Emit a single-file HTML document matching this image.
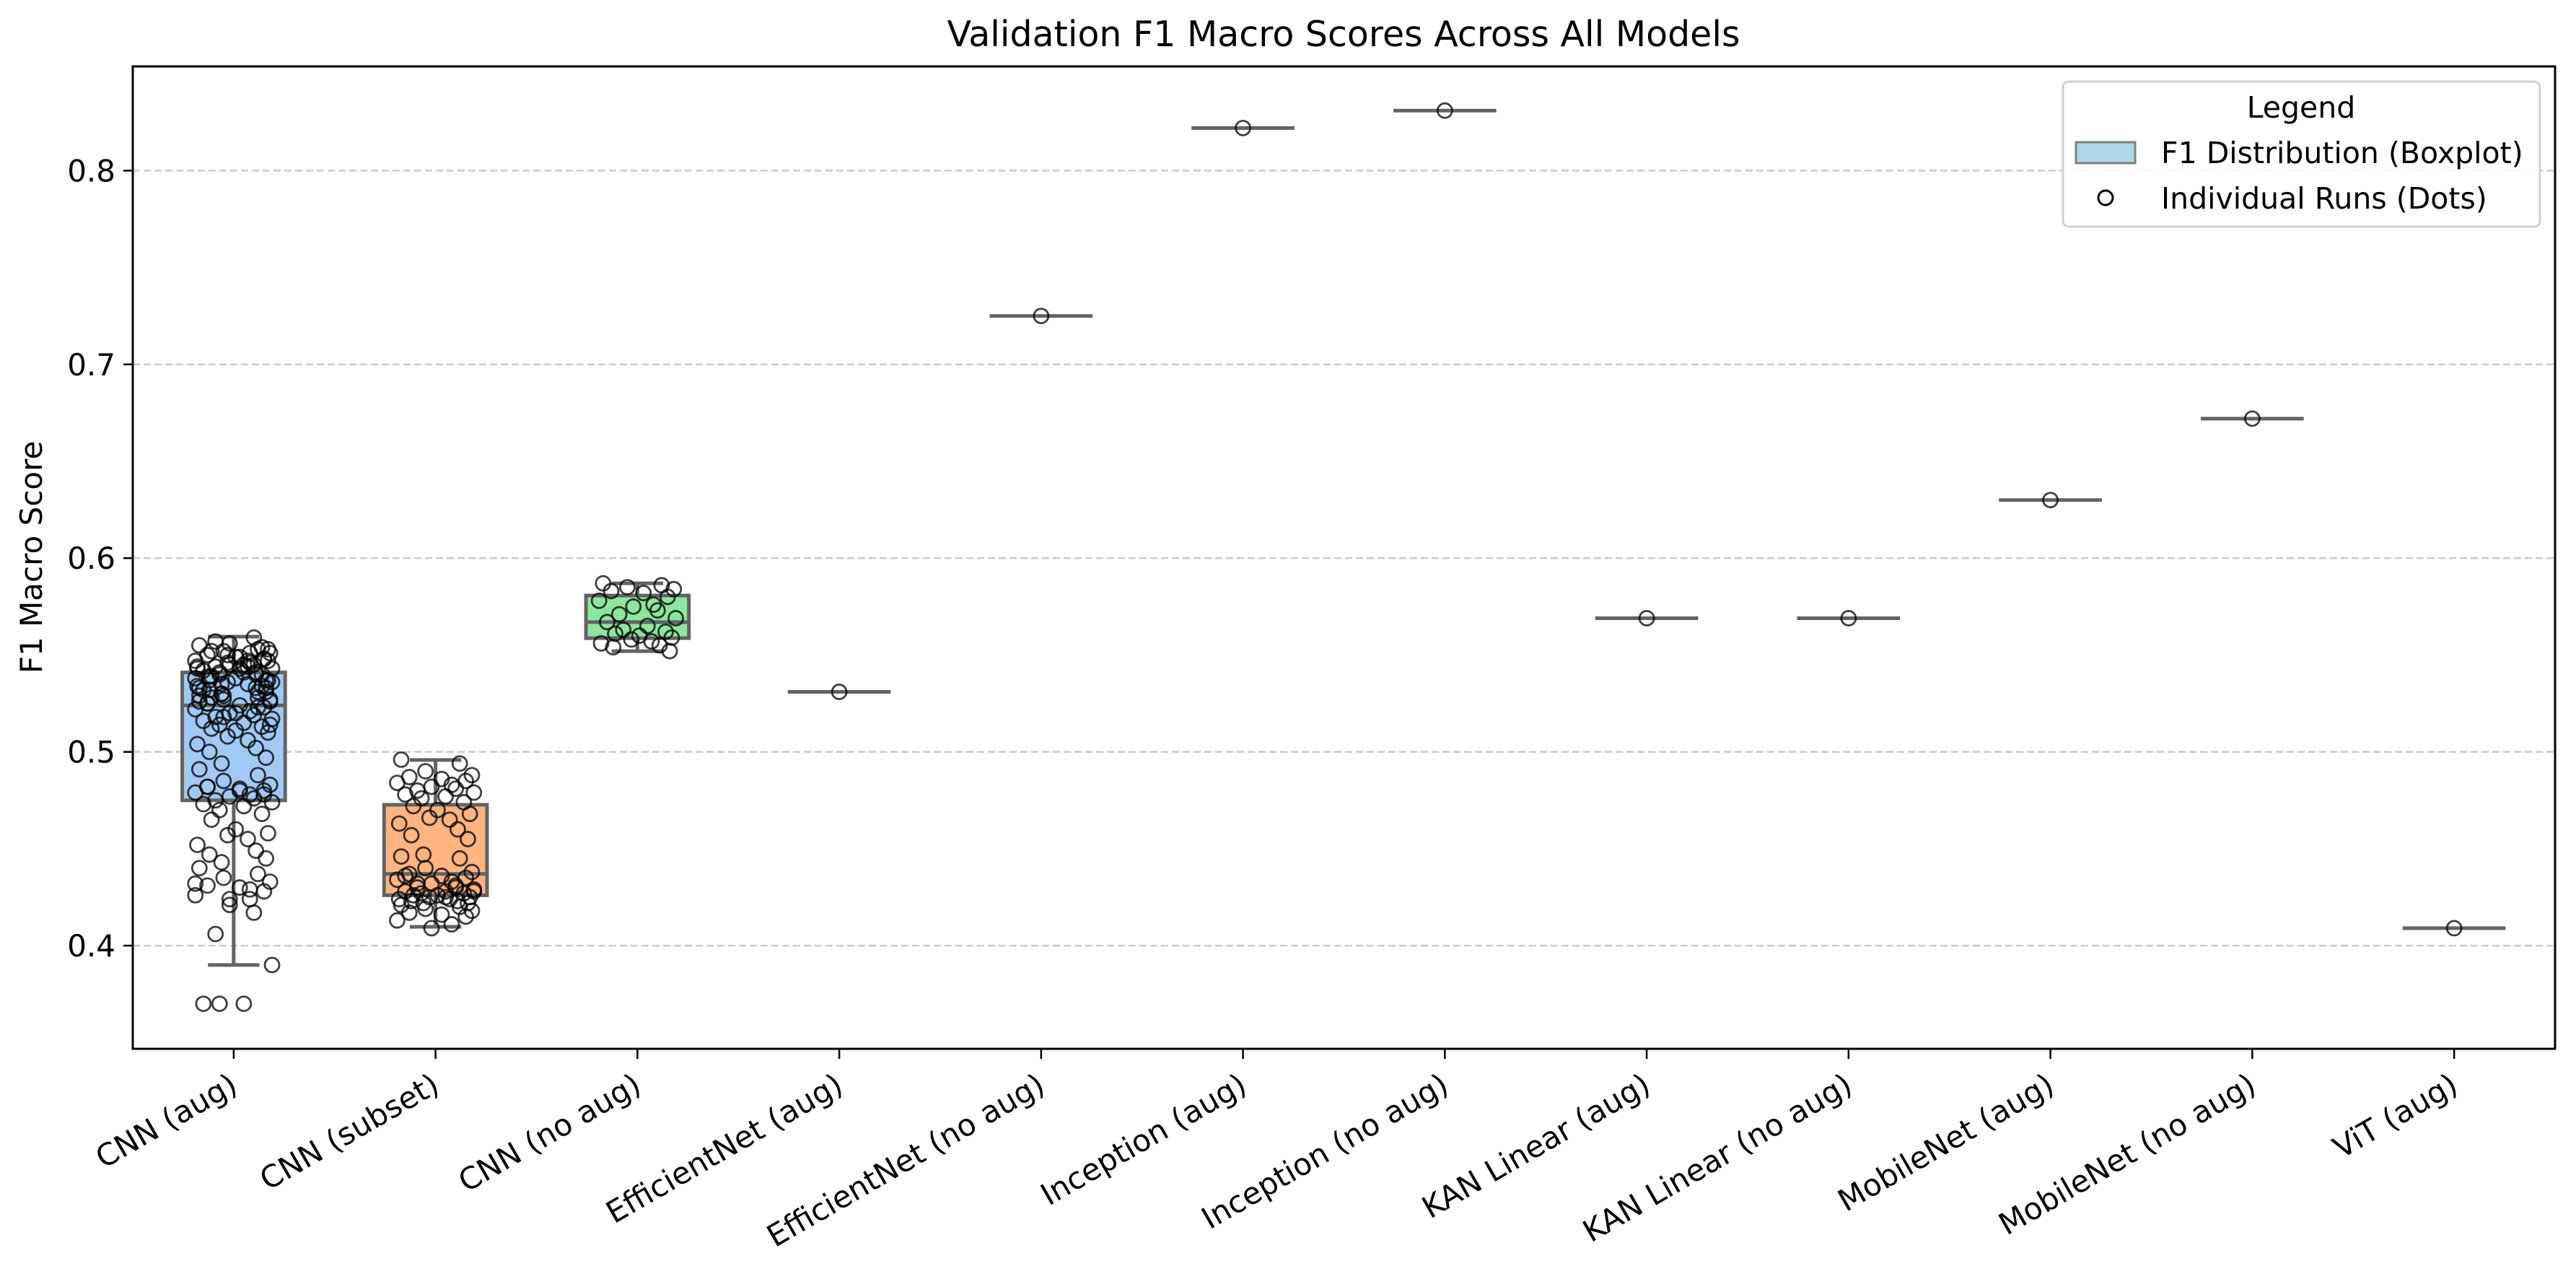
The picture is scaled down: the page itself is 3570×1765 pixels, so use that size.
<!DOCTYPE html>
<html><head><meta charset="utf-8">
<style>
html,body{margin:0;padding:0;background:#fff;}
svg{display:block;font-family:"DejaVu Sans","Liberation Sans",sans-serif;}
</style></head>
<body>
<svg id="chart" width="3570" height="1765" viewBox="0 0 3570 1765" xmlns="http://www.w3.org/2000/svg">
<rect x="0" y="0" width="3570" height="1765" fill="#fff"/>
<text x="1862" y="64" font-size="49" text-anchor="middle">Validation F1 Macro Scores Across All Models</text>
<text transform="translate(58,772) rotate(-90)" font-size="42" text-anchor="middle">F1 Macro Score</text>
<g id="grid"></g><g id="boxes"></g><g id="dots"></g><g id="axes"></g>
<g>
<rect x="2859" y="113" width="661" height="201" rx="8" fill="#fff" fill-opacity="0.85" stroke="#d0d0d0" stroke-width="3"/>
<text x="3189" y="163" font-size="41" text-anchor="middle">Legend</text>
<rect x="2877" y="197" width="82" height="29" fill="#add8e6" stroke="#808080" stroke-width="3"/>
<text x="2995" y="226" font-size="41">F1 Distribution (Boxplot)</text>
<circle cx="2918" cy="274" r="10" fill="none" stroke="#000" stroke-width="3"/>
<text x="2995" y="289" font-size="41">Individual Runs (Dots)</text>
</g>
</svg>
<script>
const categories=["CNN (aug)","CNN (subset)","CNN (no aug)","EfficientNet (aug)","EfficientNet (no aug)","Inception (aug)","Inception (no aug)","KAN Linear (aug)","KAN Linear (no aug)","MobileNet (aug)","MobileNet (no aug)","ViT (aug)"];
const boxQ1=[0.475,0.426,0.5587,0.531,0.725,0.822,0.831,0.569,0.569,0.630,0.672,0.409];
const boxMedian=[0.524,0.437,0.567,0.531,0.725,0.822,0.831,0.569,0.569,0.630,0.672,0.409];
const boxQ3=[0.541,0.4727,0.5807,0.531,0.725,0.822,0.831,0.569,0.569,0.630,0.672,0.409];
const whiskerLow=[0.390,0.4097,0.552,0.531,0.725,0.822,0.831,0.569,0.569,0.630,0.672,0.409];
const whiskerHigh=[0.5595,0.4958,0.587,0.531,0.725,0.822,0.831,0.569,0.569,0.630,0.672,0.409];
const boxFill=["#a1c9f4","#ffb482","#8de5a1",null,null,null,null,null,null,null,null,null];
const runsCnnAug=[0.555,0.553,0.552,0.551,0.550,0.549,0.548,0.547,0.546,0.545,0.545,0.544,0.543,0.542,0.541,0.540,0.540,0.539,0.538,0.537,0.536,0.535,0.534,0.533,0.532,0.531,0.530,0.529,0.528,0.527,0.526,0.525,0.524,0.523,0.522,0.521,0.520,0.519,0.518,0.517,0.516,0.515,0.514,0.513,0.512,0.511,0.510,0.508,0.506,0.504,0.502,0.500,0.497,0.494,0.491,0.488,0.485,0.483,0.482,0.481,0.480,0.479,0.478,0.477,0.476,0.475,0.474,0.473,0.472,0.470,0.468,0.465,0.460,0.458,0.457,0.455,0.452,0.449,0.447,0.445,0.443,0.440,0.437,0.435,0.433,0.431,0.430,0.428,0.426,0.424,0.421,0.417,0.406,0.390,0.370,0.370,0.370,0.554,0.552,0.549,0.547,0.546,0.544,0.543,0.541,0.539,0.537,0.535,0.533,0.531,0.529,0.527,0.525,0.543,0.548,0.538,0.551,0.556,0.559,0.557,0.536,0.532,0.545,0.541,0.534,0.528,0.520,0.553,0.550,0.547,0.544,0.540,0.537,0.533,0.530,0.526,0.523,0.518,0.514,0.482,0.480,0.478,0.432,0.429,0.424];
const runsCnnSubset=[0.496,0.494,0.490,0.488,0.487,0.486,0.485,0.484,0.483,0.482,0.481,0.480,0.479,0.478,0.477,0.476,0.474,0.472,0.470,0.468,0.466,0.465,0.463,0.460,0.457,0.455,0.447,0.446,0.445,0.440,0.438,0.437,0.436,0.435,0.434,0.433,0.432,0.431,0.430,0.429,0.428,0.428,0.427,0.427,0.426,0.426,0.425,0.425,0.424,0.424,0.423,0.423,0.422,0.422,0.421,0.420,0.419,0.418,0.417,0.416,0.415,0.413,0.411,0.409,0.430,0.432,0.428,0.436,0.425];
const runsCnnNoAug=[0.587,0.586,0.585,0.584,0.583,0.582,0.580,0.578,0.576,0.575,0.573,0.571,0.569,0.567,0.565,0.563,0.562,0.561,0.560,0.559,0.558,0.557,0.556,0.555,0.554,0.552];
const runsSingle=[0.531,0.725,0.822,0.831,0.569,0.569,0.630,0.672,0.409];
const yTicks=[0.4,0.5,0.6,0.7,0.8];
const yTickLabels=["0.4","0.5","0.6","0.7","0.8"];
const jitterPattern=[-0.17,0.12,-0.05,0.18,-0.13,0.03,0.15,-0.19,0.08,-0.02,0.1,-0.09,0.19,-0.15,0.05,-0.07,0.14,-0.11,0.01,0.17,-0.03,0.07,-0.18,0.11,-0.12,0.16,-0.06];

const NS="http://www.w3.org/2000/svg";
const L=184,R=3541,T=92,B=1453,YMIN=0.34675,YMAX=0.8538;
const band=(R-L)/categories.length;
const xS=i=>L+band*(i+0.5);
const yS=v=>B-(v-YMIN)/(YMAX-YMIN)*(B-T);
function mk(tag,attrs,parent){const e=document.createElementNS(NS,tag);for(const k in attrs)e.setAttribute(k,attrs[k]);parent.appendChild(e);return e;}
const grid=document.getElementById('grid'),boxes=document.getElementById('boxes'),dots=document.getElementById('dots'),axes=document.getElementById('axes');
yTicks.forEach((t,i)=>{
  const g=mk('line',{x1:L,x2:R,y1:yS(t),y2:yS(t),stroke:'#cccccc','stroke-width':2.5,'stroke-dasharray':'10,5'},grid);
  
  
  const tk=mk('line',{x1:L-13,x2:L,y1:yS(t),y2:yS(t),stroke:'#000','stroke-width':2.5},axes);
  
  
  const tl=mk('text',{x:L-24,y:yS(t)+15,'font-size':42,'text-anchor':'end'},axes);
  tl.textContent=yTickLabels[i];
  
  
});
const bw=band*0.51,ec='#636363',lw=5;
categories.forEach((c,i)=>{
  const x=xS(i);
  const g=mk('g',{},boxes);
  
  
  if(boxQ3[i]>boxQ1[i]){
    mk('line',{x1:x,x2:x,y1:yS(boxQ1[i]),y2:yS(whiskerLow[i]),stroke:ec,'stroke-width':lw},g);
    mk('line',{x1:x,x2:x,y1:yS(boxQ3[i]),y2:yS(whiskerHigh[i]),stroke:ec,'stroke-width':lw},g);
    mk('line',{x1:x-bw/4,x2:x+bw/4,y1:yS(whiskerLow[i]),y2:yS(whiskerLow[i]),stroke:ec,'stroke-width':lw},g);
    mk('line',{x1:x-bw/4,x2:x+bw/4,y1:yS(whiskerHigh[i]),y2:yS(whiskerHigh[i]),stroke:ec,'stroke-width':lw},g);
    mk('rect',{x:x-bw/2,y:yS(boxQ3[i]),width:bw,height:yS(boxQ1[i])-yS(boxQ3[i]),fill:boxFill[i],stroke:ec,'stroke-width':lw},g);
  }
  mk('line',{x1:x-bw/2,x2:x+bw/2,y1:yS(boxMedian[i]),y2:yS(boxMedian[i]),stroke:ec,'stroke-width':lw},g);
  const tk=mk('line',{x1:x,x2:x,y1:B,y2:B+14,stroke:'#000','stroke-width':2.5},axes);
  
  
  const tl=mk('text',{x:x+8,y:B+58,'font-size':42,'text-anchor':'end',transform:`rotate(-30 ${x+8} ${B+58})`},axes);
  tl.textContent=c;
  
  
});
function drawRuns(vals,ci){
  vals.forEach((v,k)=>{
    const j=ci<3?jitterPattern[k%jitterPattern.length]:0;
    const d=mk('circle',{cx:xS(ci)+j*band,cy:yS(v),r:10,fill:'none',stroke:'#000','stroke-opacity':0.75,'stroke-width':2.8},dots);
    
    
  });
}
drawRuns(runsCnnAug,0);drawRuns(runsCnnSubset,1);drawRuns(runsCnnNoAug,2);
runsSingle.forEach((v,k)=>drawRuns([v],k+3));
const fr=mk('rect',{x:L,y:T,width:R-L,height:B-T,fill:'none',stroke:'#000','stroke-width':3},axes);


</script>
</body></html>
